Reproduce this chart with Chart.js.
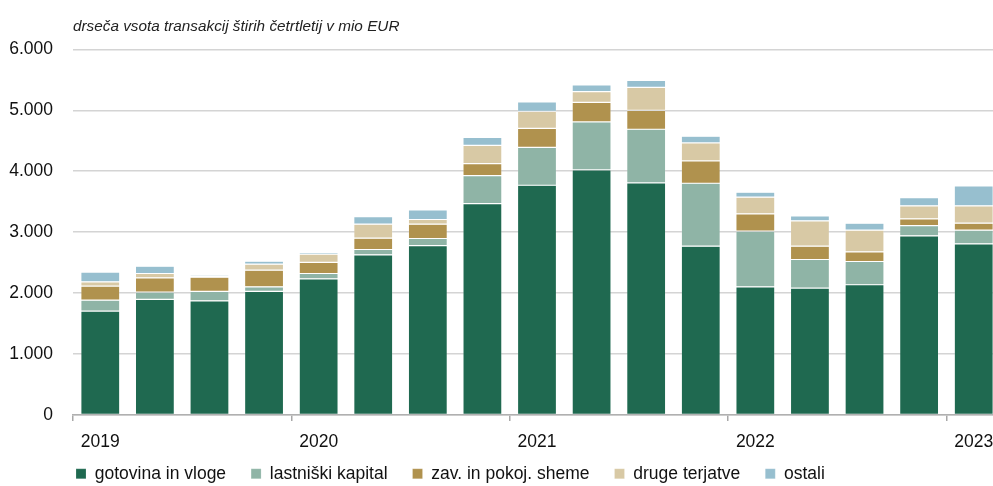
<!DOCTYPE html>
<html>
<head>
<meta charset="utf-8">
<script src="https://cdn.jsdelivr.net/npm/chart.js@4/dist/chart.umd.min.js"></script>
<style>
  html, body { margin: 0; padding: 0; background: #fff; overflow: hidden; }
  #wrap { width: 1010px; height: 486px; position: relative; }
</style>
</head>
<body>
<div id="wrap"><canvas id="c"></canvas></div>
<script>
// Quarters 2019Q1 .. 2023Q1
const quarters = ['2019Q1','2019Q2','2019Q3','2019Q4','2020Q1','2020Q2','2020Q3','2020Q4','2021Q1','2021Q2','2021Q3','2021Q4','2022Q1','2022Q2','2022Q3','2022Q4','2023Q1'];

const gotovinaInVloge   = [1705,1896,1874,2027,2235,2628,2781,3470,3770,4022,3809,2770,2104,2082,2137,2940,2809];
const lastniskiKapital  = [180,120,153,77,87,88,115,459,623,787,880,1033,912,470,382,169,224];
const zavInPokojSheme   = [230,235,235,273,181,186,235,197,312,322,311,366,285,218,159,110,115];
const drugeTerjatve     = [70,71,22,98,136,229,77,300,279,175,377,295,273,416,355,213,284];
const ostali            = [160,120,25,50,28,125,158,131,153,109,115,110,82,82,115,136,328];

const seriesNames = ['gotovina in vloge','lastniški kapital','zav. in pokoj. sheme','druge terjatve','ostali'];
const seriesColors = ['#1f6950','#8fb4a6','#b0924e','#d8c9a5','#97bfcf'];
const yTicks = [0,1000,2000,3000,4000,5000,6000];
const titleText = 'drseča vsota transakcij štirih četrtletij v mio EUR';

const allSeries = [gotovinaInVloge, lastniskiKapital, zavInPokojSheme, drugeTerjatve, ostali];

const fmt = v => String(v).replace(/\B(?=(\d{3})+(?!\d))/g, '.');

const datasets = allSeries.map((d, i) => ({
  label: seriesNames[i],
  data: d,
  backgroundColor: seriesColors[i],
  borderColor: 'rgba(255,255,255,0.3)',
  borderWidth: 0.6,
  borderSkipped: false,
  barPercentage: 0.714,
  categoryPercentage: 1.0
}));

Chart.defaults.font.family = '"Liberation Sans", Arial, sans-serif';
Chart.defaults.color = '#111';

// Legend placement helper: compact legend height and position it under the axis labels
const legendPlacement = {
  id: 'legendPlacement',
  afterInit(chart) {
    const lg = chart.legend;
    if (!lg) return;
    const origFit = lg.fit.bind(lg);
    lg.fit = function () { origFit(); this.height = 36; };
  },
  afterLayout(chart) {
    const lg = chart.legend;
    if (!lg) return;
    const dx = 51 - lg.left;
    lg.left += dx; lg.right += dx;
    lg.top = 440;
    lg.height = 46;
    lg.bottom = lg.top + lg.height;
  }
};

new Chart(document.getElementById('c'), {
  type: 'bar',
  data: { labels: quarters, datasets },
  plugins: [legendPlacement],
  options: {
    responsive: true,
    maintainAspectRatio: false,
    animation: false,
    layout: { padding: { top: 18, right: 9, left: 0, bottom: 0 } },
    plugins: {
      title: {
        display: true,
        text: titleText,
        align: 'start',
        fullSize: false,
        color: '#222',
        font: { size: 15.3, style: 'italic', weight: 'normal' },
        padding: { top: 0, bottom: 13 }
      },
      legend: {
        position: 'bottom',
        align: 'start',
        fullSize: false,
        labels: {
          boxWidth: 10,
          boxHeight: 10,
          padding: 25,
          color: '#111',
          font: { size: 17.5 }
        }
      },
      tooltip: { enabled: false }
    },
    scales: {
      x: {
        stacked: true,
        offset: true,
        afterFit: (scale) => { scale.height = 35; },
        grid: {
          offset: true,
          drawOnChartArea: false,
          drawTicks: true,
          tickLength: 6,
          lineWidth: 1.5,
          color: (ctx) => (ctx.index % 4 === 0 ? '#a8a8a8' : 'rgba(0,0,0,0)')
        },
        border: { display: true, color: '#b0b0b0', width: 1.5 },
        ticks: {
          autoSkip: false,
          maxRotation: 0,
          padding: 11,
          color: '#111',
          font: { size: 17.5 },
          callback: function (val, idx) {
            const q = quarters[idx];
            return q.endsWith('Q1') ? q.slice(0, 4) : '';
          }
        }
      },
      y: {
        stacked: true,
        min: 0,
        max: 6000,
        afterBuildTicks: (scale) => { scale.ticks = yTicks.map(v => ({ value: v })); },
        afterFit: (scale) => { scale.width = 73; },
        grid: { color: '#d4d4d4', lineWidth: 1.5, drawTicks: false },
        border: { display: false },
        ticks: {
          padding: 20,
          color: '#111',
          font: { size: 17.5 },
          callback: (v) => fmt(v)
        }
      }
    }
  }
});
</script>
</body>
</html>
